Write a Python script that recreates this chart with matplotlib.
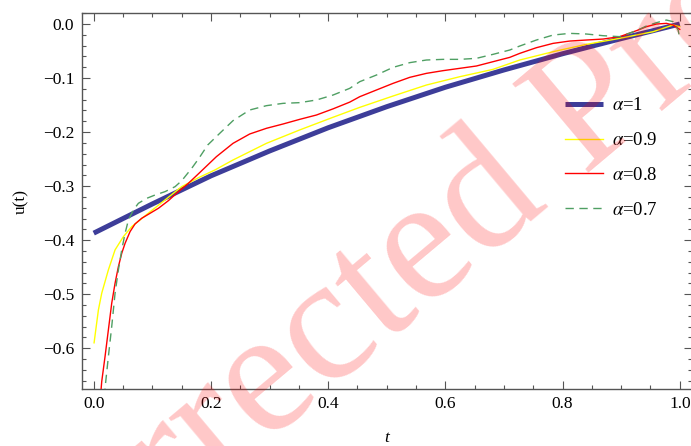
import numpy as np
import matplotlib
matplotlib.use("Agg")
import matplotlib.pyplot as plt
from matplotlib.ticker import MultipleLocator

plt.rcParams['font.family'] = ['Liberation Serif', 'DejaVu Serif']
plt.rcParams['mathtext.fontset'] = 'stix'

# ---- data ----
t_a10 = [0.0, 0.1, 0.2, 0.3, 0.4, 0.5, 0.6, 0.7, 0.8, 0.9, 1.0]
u_a10 = [-0.387, -0.333, -0.281, -0.235, -0.192, -0.153, -0.117, -0.085, -0.055, -0.027, 0.0]

t_a09 = [0.0006, 0.008, 0.0137, 0.025, 0.0364, 0.0506, 0.0648, 0.0933, 0.1217, 0.150, 0.1795,
         0.207, 0.237, 0.2947, 0.3515, 0.408, 0.454, 0.5108, 0.5677, 0.6246, 0.6814, 0.727,
         0.7838, 0.8407, 0.8976, 0.9545, 0.9886, 1.0]
u_a09 = [-0.590, -0.529, -0.498, -0.455, -0.418, -0.3935, -0.375, -0.350, -0.3256, -0.301, -0.284,
         -0.270, -0.252, -0.2208, -0.196, -0.1727, -0.1542, -0.1332, -0.1129, -0.0975, -0.0839, -0.0666,
         -0.0512, -0.0376, -0.0265, -0.0142, -0.0018, -0.005]

t_a08 = [0.0115, 0.01365, 0.0193, 0.025, 0.0307, 0.0364, 0.0421, 0.0478, 0.0535, 0.062, 0.0705,
         0.0819, 0.0933, 0.1104, 0.1274, 0.1445, 0.1616, 0.181, 0.2093, 0.2377, 0.2662, 0.2947,
         0.3231, 0.3515, 0.380, 0.4084, 0.4369, 0.4539, 0.4824, 0.5108, 0.5392, 0.5677, 0.5961,
         0.6246, 0.653, 0.6814, 0.7099, 0.727, 0.7554, 0.7838, 0.8123, 0.8407, 0.8692, 0.8976,
         0.9261, 0.9431, 0.9602, 0.9772, 0.9886, 1.0]
u_a08 = [-0.690, -0.6617, -0.6155, -0.5661, -0.5168, -0.4798, -0.449, -0.4243, -0.4058, -0.3842, -0.370,
         -0.3595, -0.3521, -0.341, -0.3269, -0.3102, -0.2947, -0.2748, -0.2455, -0.2208, -0.2035, -0.193,
         -0.185, -0.1764, -0.1684, -0.157, -0.1445, -0.1345, -0.1221, -0.1098, -0.0987, -0.0913, -0.0863,
         -0.082, -0.0777, -0.0697, -0.0617, -0.0543, -0.0438, -0.0358, -0.0315, -0.0296, -0.0278, -0.0234,
         -0.0123, -0.0049, 0.0, 0.0012, -0.0018, -0.0099]

t_a07 = [0.018, 0.0205, 0.025, 0.0307, 0.0364, 0.0421, 0.0478, 0.0535, 0.0592, 0.0677, 0.0762,
         0.0904, 0.1047, 0.1217, 0.1388, 0.1502, 0.1672, 0.1795, 0.1945, 0.215, 0.2377, 0.2662,
         0.2947, 0.3231, 0.3515, 0.380, 0.4084, 0.4369, 0.4539, 0.4824, 0.5108, 0.5392, 0.5677,
         0.5961, 0.6246, 0.653, 0.6814, 0.7099, 0.727, 0.7554, 0.7838, 0.8123, 0.8407, 0.8692,
         0.8976, 0.9261, 0.9431, 0.9602, 0.9772, 0.9886, 0.9972, 1.0]
u_a07 = [-0.690, -0.6617, -0.6155, -0.560, -0.4983, -0.4551, -0.4181, -0.3873, -0.3626, -0.3441, -0.3318,
         -0.3226, -0.3164, -0.3102, -0.301, -0.2899, -0.267, -0.2485, -0.2239, -0.2023, -0.1788, -0.1591,
         -0.1511, -0.1468, -0.1455, -0.1406, -0.1314, -0.119, -0.1067, -0.0944, -0.0802, -0.0715, -0.0666,
         -0.0654, -0.0654, -0.0635, -0.0561, -0.0481, -0.0407, -0.0296, -0.0204, -0.0173, -0.0185, -0.0216,
         -0.0234, -0.0123, -0.0037, 0.0025, 0.0074, 0.0043, -0.011, -0.027]

labels = [r'$\alpha$=1', r'$\alpha$=0.9', r'$\alpha$=0.8', r'$\alpha$=0.7']
colors = ['#3d3d99', '#ffff00', '#ff0000', '#4f9f63']
x_ticks = [0.0, 0.2, 0.4, 0.6, 0.8, 1.0]
y_ticks = [0.0, -0.1, -0.2, -0.3, -0.4, -0.5, -0.6]
watermark = "Corrected Proof"

fig = plt.figure(figsize=(6.91, 4.46), dpi=100)
ax = fig.add_axes([82 / 691, (446 - 389.3) / 446, 609.5 / 691, (389.3 - 13) / 446])

ax.plot(t_a10, u_a10, color=colors[0], lw=3.6, label=labels[0], solid_capstyle='butt', zorder=2)
ax.plot(t_a09, u_a09, color=colors[1], lw=1.0, label=labels[1], zorder=3)
ax.plot(t_a08, u_a08, color=colors[2], lw=1.0, label=labels[2], zorder=4)
ax.plot(t_a07, u_a07, color=colors[3], lw=1.0, ls=(0, (6, 4)), label=labels[3], zorder=5)

ax.set_xlim(-0.02, 1.02)
ax.set_ylim(-0.676, 0.0204)
ax.set_xticks(x_ticks)
ax.set_xticklabels([f"{v:.1f}" for v in x_ticks])
ax.set_yticks(y_ticks)
ax.set_yticklabels([f"{v:.1f}".replace('-', '\u2212') if v != 0 else "0.0" for v in y_ticks])
ax.xaxis.set_minor_locator(MultipleLocator(0.05))
ax.yaxis.set_minor_locator(MultipleLocator(0.02))

spine_col = '#555555'
for s in ax.spines.values():
    s.set_color(spine_col)
    s.set_linewidth(1.0)
ax.tick_params(which='both', direction='in', top=True, right=True, color=spine_col,
               labelsize=12.5, labelcolor='black')
ax.tick_params(which='major', length=5.5, width=0.8)
ax.tick_params(which='minor', length=3.2, width=0.8)
ax.tick_params(axis='y', pad=5.5)
ax.tick_params(axis='x', pad=5)

ax.set_xlabel('t', fontsize=12.5, style='italic', labelpad=13)
ax.set_ylabel('u(t)', fontsize=12.5, labelpad=10)

leg = ax.legend(loc='upper left', bbox_to_anchor=(565 / 691, 1 - 97 / 446),
                bbox_transform=fig.transFigure, frameon=False, fontsize=13.5,
                handlelength=2.0, handletextpad=0.5, labelspacing=0.95, borderpad=0,
                borderaxespad=0)

fig.text(15.6 / 691, (446 - 653.1) / 446, watermark, fontsize=127.5, color='#ff0000', alpha=0.22,
         rotation=40, rotation_mode='anchor', ha='left', va='baseline',
         family='Liberation Serif', zorder=10)

fig.savefig('out.png', dpi=100)
